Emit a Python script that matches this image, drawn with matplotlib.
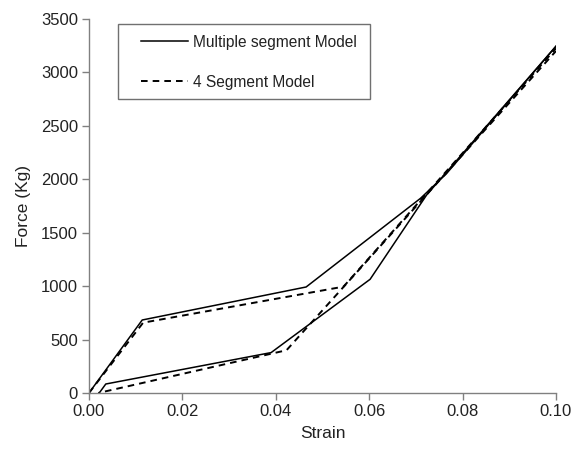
import matplotlib
matplotlib.use("Agg")
import matplotlib.pyplot as plt
from matplotlib.patches import Rectangle
from matplotlib.ticker import FormatStrFormatter

plt.rcParams['font.family'] = ['Liberation Sans', 'DejaVu Sans']

# multiple segment model: loading branch and unloading branch
multi_load_strain = [0.0, 0.0114, 0.0465, 0.0710, 0.0765, 0.1000]
multi_load_force = [0, 683, 992, 1822, 2050, 3245]
multi_unload_strain = [0.0022, 0.0036, 0.0390, 0.0602, 0.0723, 0.1000]
multi_unload_force = [0, 84, 378, 1064, 1853, 3245]

# 4 segment model
seg4_load_strain = [0.0, 0.0116, 0.0545, 0.1000]
seg4_load_force = [0, 658, 995, 3225]
seg4_unload_strain = [0.0020, 0.0423, 0.1000]
seg4_unload_force = [0, 400, 3200]

x_ticks = [0.00, 0.02, 0.04, 0.06, 0.08, 0.10]
y_ticks = [0, 500, 1000, 1500, 2000, 2500, 3000, 3500]

fig = plt.figure(figsize=(5.74, 4.5), dpi=100)
ax = fig.add_axes([0.155, 0.1267, 0.8136, 0.8311])

ax.plot(multi_load_strain, multi_load_force, color='black', lw=1.1,
        label='Multiple segment Model')
ax.plot(multi_unload_strain, multi_unload_force, color='black', lw=1.1)
ax.plot(seg4_load_strain, seg4_load_force, color='black', lw=1.4,
        ls=(0, (3.4, 2.6)), label='4 Segment Model')
ax.plot(seg4_unload_strain, seg4_unload_force, color='black', lw=1.4,
        ls=(2.5, (3.4, 2.6)))

ax.set_xlim(0, 0.10)
ax.set_ylim(0, 3500)
ax.set_xticks(x_ticks)
ax.set_yticks(y_ticks)
ax.xaxis.set_major_formatter(FormatStrFormatter('%.2f'))

for side in ['top', 'right']:
    ax.spines[side].set_visible(False)
for side in ['left', 'bottom']:
    ax.spines[side].set_color('#808080')
    ax.spines[side].set_linewidth(1.0)
ax.tick_params(direction='out', length=5, width=1.0, color='#808080',
               labelsize=12, labelcolor='#222222', pad=3)

ax.set_xlabel('Strain', fontsize=12.5, color='#222222', labelpad=5)
ax.set_ylabel('Force (Kg)', fontsize=12.5, color='#222222', labelpad=7)

# legend box drawn as a plain rectangle, entries placed inside it
ax.add_patch(Rectangle((0.062, 0.786), 0.54, 0.2, transform=ax.transAxes,
                       fill=False, edgecolor='#707070', lw=1.0,
                       clip_on=False, zorder=4))
leg = ax.legend(loc='upper left', bbox_to_anchor=(0.112, 0.958),
                borderaxespad=0, borderpad=0, fontsize=11.2,
                handlelength=3.0, handletextpad=0.3, labelspacing=1.6,
                frameon=False)
for t in leg.get_texts():
    t.set_color('#222222')

fig.savefig('out.png', dpi=100)
